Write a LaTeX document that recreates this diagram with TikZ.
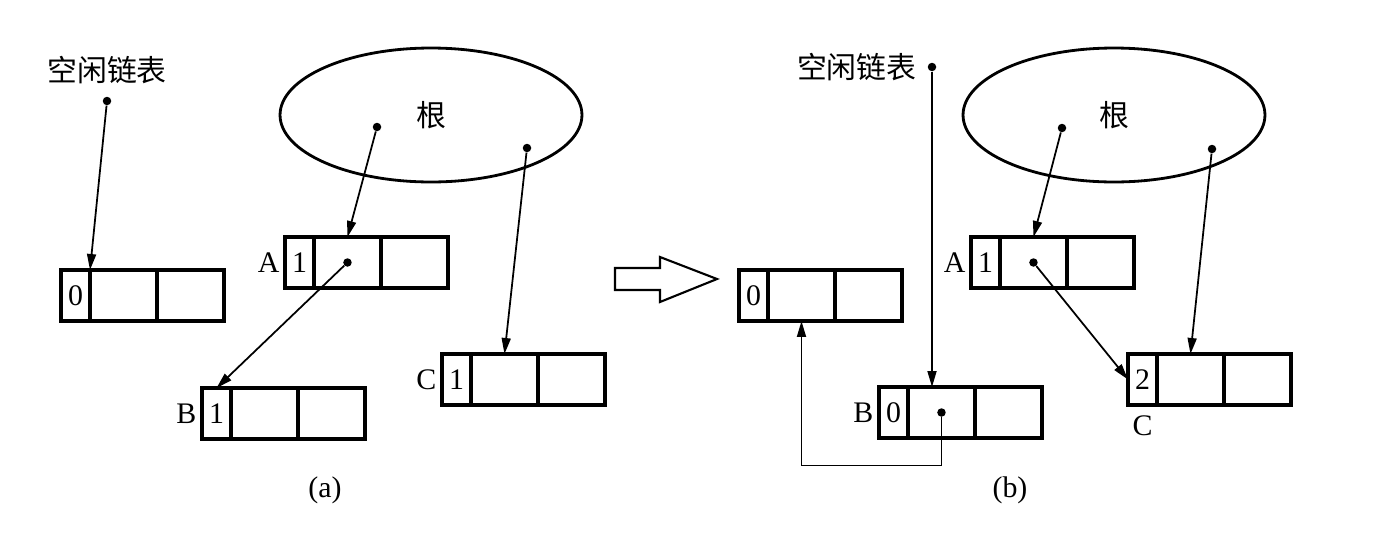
\documentclass[tikz,border=0pt]{standalone}
\usepackage{fontspec}
\setmainfont{Liberation Serif}
\newfontfamily\cjk{Noto Sans CJK SC}
\usetikzlibrary{arrows.meta,positioning,shapes.geometric}
\tikzset{
  cnt/.style={draw, line width=1.8pt, minimum width=0.58cm, minimum height=1.02cm,
              inner sep=0pt, outer sep=0pt, font=\fontsize{17}{19}\selectfont},
  fld/.style={draw, line width=1.8pt, minimum width=1.34cm, minimum height=1.02cm,
              inner sep=0pt, outer sep=0pt},
  ptr/.style={-{Triangle[length=0.32cm, width=0.18cm]}, line width=1pt},
  dot/.style={circle, fill, inner sep=0pt, minimum size=0.17cm},
  lbl/.style={inner sep=0pt, font=\fontsize{17}{19}\selectfont},
  cjkl/.style={inner sep=0pt, font=\cjk\fontsize{17}{20}\selectfont},
  root/.style={ellipse, draw, line width=1.6pt, minimum width=6.04cm, minimum height=2.68cm,
               inner sep=0pt, font=\cjk\fontsize{17}{20}\selectfont},
}

\begin{document}
\begin{tikzpicture}[x=0.02cm, y=-0.02cm]
\useasboundingbox (0,0) rectangle (1380,538);

% --- bloques (contador + 2 campos) ---
\foreach \n/\x/\y/\v in {fa/61/270/0, aa/285/237/1, ba/202/388/1, ca/442/354/1,
                          fb/739/270/0, bb/879/387/0, ab/971/237/1, cb/1128/354/2} {
  \node[cnt, anchor=north west] (\n0) at (\x,\y) {\v};
  \node[fld, right=0pt of \n0] (\n1) {};
  \node[fld, right=0pt of \n1] (\n2) {};
}

% --- etiquetas ---
\node[lbl, left=3pt of aa0] (laa) {A};
\node[lbl, left=3pt of ba0] (lba) {B};
\node[lbl, left=3pt of ca0] (lca) {C};
\node[lbl, left=3pt of ab0] (lab) {A};
\node[lbl, left=3pt of bb0] (lbb) {B};
\node[lbl, below=6pt of cb0] (lcb) {C};

% --- (a) ---
\node[root] (ra) at (431,115) {根};
\node[cjkl] (fla) at (107,70) {空闲链表};
\node[dot] (fda) at (107,101) {};
\node[dot] (ra1) at (377,127) {};
\node[dot] (ra2) at (527,148) {};
\node[dot] (pa) at (aa1.center) {};
\draw[ptr] (fda) -- (fa1.north west);
\draw[ptr] (ra1) -- (aa1.north);
\draw[ptr] (ra2) -- (ca1.north);
\draw[ptr] (pa) -- (ba0.north);
\node[lbl] (capa) at (325,490) {(a)};

% flecha hueca
\draw[line width=1.2pt] (615,268) -- (660,268) -- (660,257) -- (717,279)
  -- (660,302) -- (660,290) -- (615,290) -- cycle;

% --- (b) ---
\node[root] (rb) at (1114,115) {根};
\node[dot] (fdb) at (932,67) {};
\node[cjkl, left=6pt of fdb] (flb) {空闲链表};
\node[dot] (rb1) at (1062,128) {};
\node[dot] (rb2) at (1212,149) {};
\node[dot] (pab) at (ab1.center) {};
\node[dot] (pbb) at (bb1.center) {};
\draw[ptr] (fdb) -- (fdb |- bb1.north);
\draw[ptr] (rb1) -- (ab1.north);
\draw[ptr] (rb2) -- (cb1.north);
\draw[ptr] (pab) -- (cb0.west);
\draw[ptr] (pbb) -- ++(0,53) -| (fb1.south);
\node[lbl] (capb) at (1010,490) {(b)};
\end{tikzpicture}
\end{document}
